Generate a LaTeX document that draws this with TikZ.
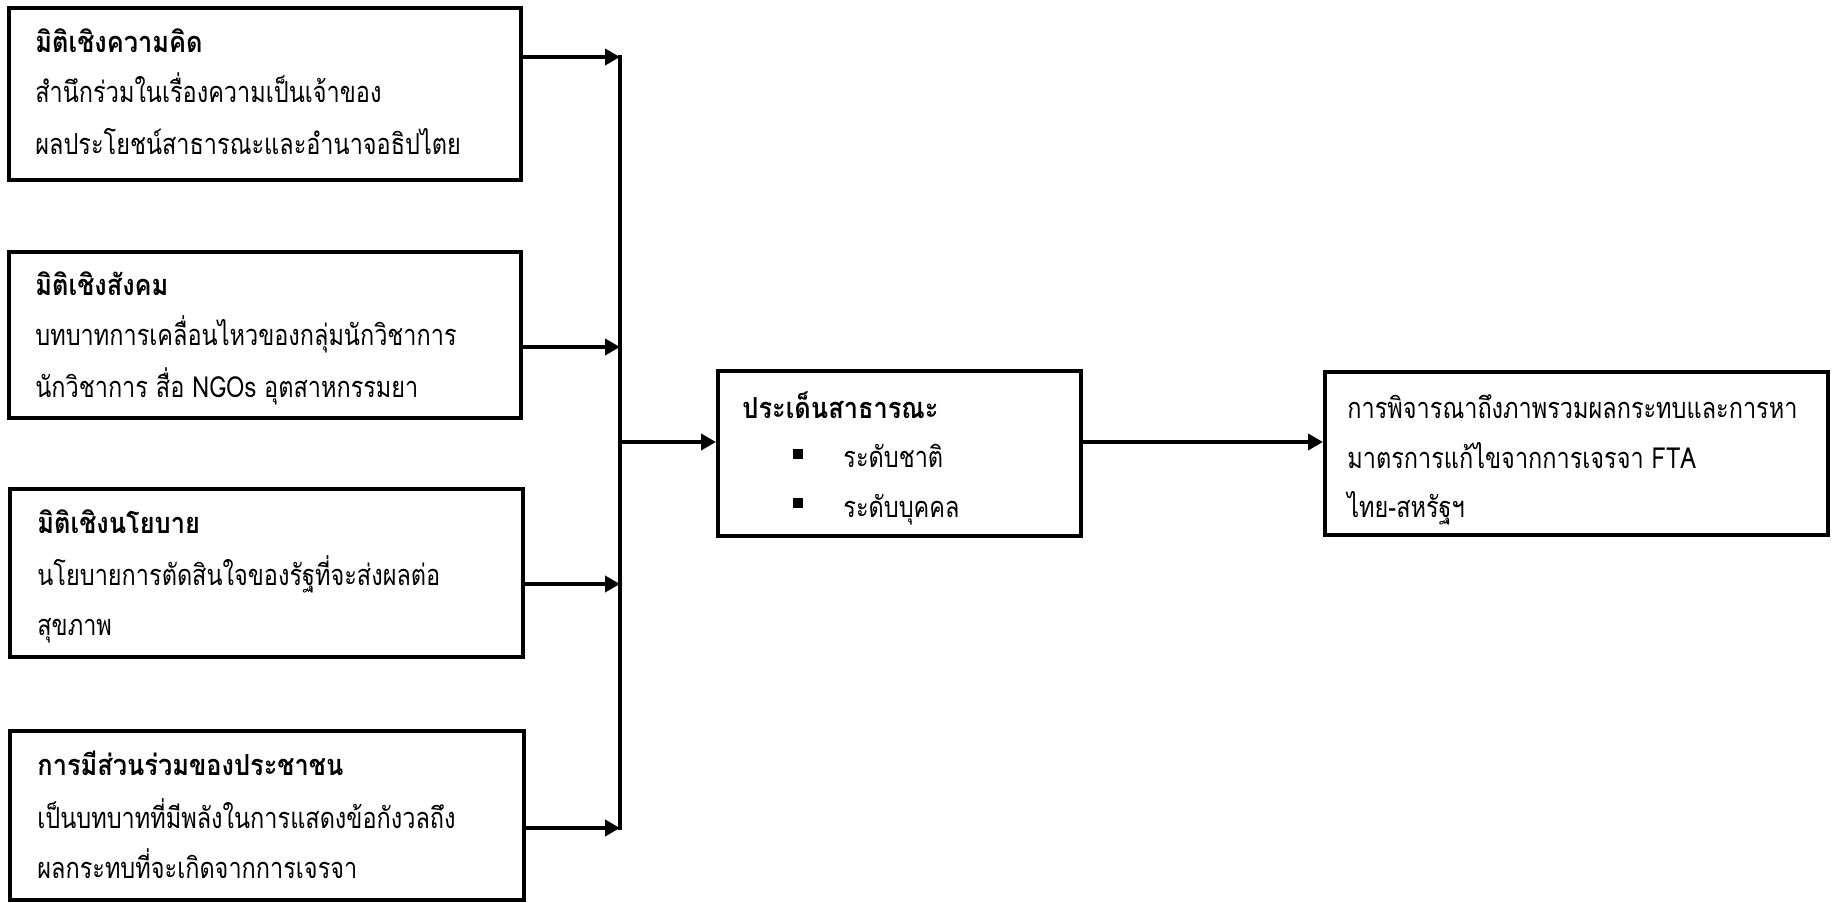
\documentclass[tikz,border=0pt]{standalone}
\usepackage{fontspec}
\newfontfamily\thaifont[Script=Thai,FakeStretch=0.81,BoldFeatures={FakeStretch=0.875}]{Loma}
\usetikzlibrary{arrows.meta}
\begin{document}
\begin{tikzpicture}[x=0.5pt,y=-0.5pt,
  box/.style={draw=black, line width=2pt, inner sep=0pt, anchor=center},
  txt/.style={anchor=base west, inner sep=0pt, font=\thaifont\fontsize{14.5}{16}\selectfont},
  ttl/.style={anchor=base west, inner sep=0pt, font=\thaifont\bfseries\fontsize{14.5}{16}\selectfont},
  arr/.style={line width=2pt, -{Triangle[length=7.5pt,width=8pt]}},
  bus/.style={line width=2pt, line cap=rect},
  bul/.style={fill=black, inner sep=0pt, minimum size=5pt}]
\useasboundingbox[fill=white] (0,0) rectangle (1834,903);
% boxes
\node[box, minimum width=256pt, minimum height=86pt] (b1) at (265,94) {};
\node[box, minimum width=256pt, minimum height=83pt] (b2) at (265,335) {};
\node[box, minimum width=256.5pt, minimum height=84pt] (b3) at (266.5,573) {};
\node[box, minimum width=257pt, minimum height=84.5pt] (b4) at (267,815.5) {};
\node[box, minimum width=181.5pt, minimum height=82.5pt] (c) at (899.5,453.5) {};
\node[box, minimum width=251.5pt, minimum height=81.5pt] (r) at (1576.5,453.5) {};
% texts
\node[ttl] (b1t) at (35,53) {มิติเชิงความคิด};
\node[txt] (b1a) at (35,103) {สำนึกร่วมในเรื่องความเป็นเจ้าของ};
\node[txt] (b1b) at (35,155) {ผลประโยชน์สาธารณะและอำนาจอธิปไตย};
\node[ttl] (b2t) at (35,296) {มิติเชิงสังคม};
\node[txt] (b2a) at (35,345) {บทบาทการเคลื่อนไหวของกลุ่มนักวิชาการ};
\node[txt] (b2b) at (35,397) {นักวิชาการ สื่อ NGOs อุตสาหกรรมยา};
\node[ttl] (b3t) at (37,533) {มิติเชิงนโยบาย};
\node[txt] (b3a) at (37,585) {นโยบายการตัดสินใจของรัฐที่จะส่งผลต่อ};
\node[txt] (b3b) at (37,635) {สุขภาพ};
\node[ttl] (b4t) at (37,775) {การมีส่วนร่วมของประชาชน};
\node[txt] (b4a) at (37,828) {เป็นบทบาทที่มีพลังในการแสดงข้อกังวลถึง};
\node[txt] (b4b) at (37,878) {ผลกระทบที่จะเกิดจากการเจรจา};
\node[ttl] (ct) at (742,418) {ประเด็นสาธารณะ};
\node[bul] (cb1) at (798,454) {};
\node[bul] (cb2) at (798,503) {};
\node[txt] (ca) at (843,467) {ระดับชาติ};
\node[txt] (cb) at (843,517) {ระดับบุคคล};
\node[txt] (ra) at (1347,418) {การพิจารณาถึงภาพรวมผลกระทบและการหา};
\node[txt] (rb) at (1347,468) {มาตรการแก้ไขจากการเจรจา FTA};
\node[txt] (rc) at (1347,517) {ไทย-สหรัฐฯ};
% junctions
\coordinate (j1) at (620,57);
\coordinate (j2) at (620,347);
\coordinate (j3) at (620,584);
\coordinate (j4) at (620,828);
\coordinate (jc) at (620,442);
% connectors
\draw[bus] (j1) -- (j4);
\draw[arr] (j1 -| b1.east) -- (j1);
\draw[arr] (j2 -| b2.east) -- (j2);
\draw[arr] (j3 -| b3.east) -- (j3);
\draw[arr] (j4 -| b4.east) -- (j4);
\draw[arr] (jc) -- (jc -| c.west);
\draw[arr] (c.east |- jc) -- (r.west |- jc);
\end{tikzpicture}
\end{document}
